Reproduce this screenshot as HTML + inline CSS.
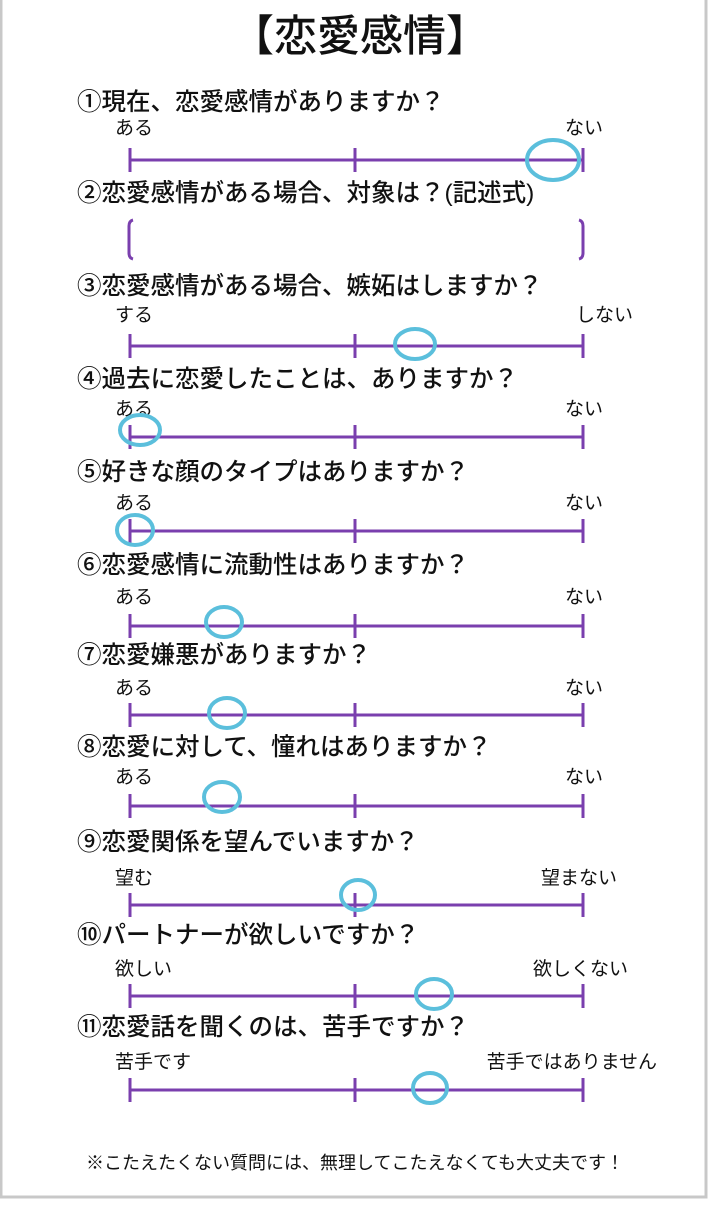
<!DOCTYPE html>
<html><head><meta charset="utf-8"><style>
html,body{margin:0;padding:0;background:#fff;}
body{width:713px;height:1200px;overflow:hidden;}
svg text{font-family:"Liberation Sans","Noto Sans CJK JP",sans-serif;fill:#111;}
</style></head><body>
<svg width="713" height="1200" xmlns="http://www.w3.org/2000/svg">
<rect x="0" y="0" width="713" height="1200" fill="#fff"/>
<rect x="1" y="-5" width="705" height="1202" fill="none" stroke="#c8c8c8" stroke-width="3"/>
<text x="360" y="51" font-size="43" text-anchor="middle" font-weight="500">【恋愛感情】</text>
<g font-size="24.5" font-weight="500">
<text x="77" y="110">①現在、恋愛感情がありますか？</text>
<text x="77" y="201">②恋愛感情がある場合、対象は？(記述式)</text>
<text x="77" y="294">③恋愛感情がある場合、嫉妬はしますか？</text>
<text x="77" y="387">④過去に恋愛したことは、ありますか？</text>
<text x="77" y="480">⑤好きな顔のタイプはありますか？</text>
<text x="77" y="573">⑥恋愛感情に流動性はありますか？</text>
<text x="77" y="663">⑦恋愛嫌悪がありますか？</text>
<text x="77" y="755">⑧恋愛に対して、憧れはありますか？</text>
<text x="77" y="850">⑨恋愛関係を望んでいますか？</text>
<text x="77" y="943">⑩パートナーが欲しいですか？</text>
<text x="77" y="1035">⑪恋愛話を聞くのは、苦手ですか？</text>
</g>
<g font-size="19">
<text x="115" y="134">ある</text><text x="603" y="134" text-anchor="end">ない</text>
<text x="115" y="321">する</text><text x="633" y="321" text-anchor="end">しない</text>
<text x="115" y="415">ある</text><text x="603" y="415" text-anchor="end">ない</text>
<text x="115" y="509">ある</text><text x="603" y="509" text-anchor="end">ない</text>
<text x="115" y="603">ある</text><text x="603" y="603" text-anchor="end">ない</text>
<text x="115" y="694">ある</text><text x="603" y="694" text-anchor="end">ない</text>
<text x="115" y="783">ある</text><text x="603" y="783" text-anchor="end">ない</text>
<text x="115" y="884">望む</text><text x="617" y="884" text-anchor="end">望まない</text>
<text x="115" y="975">欲しい</text><text x="628" y="975" text-anchor="end">欲しくない</text>
<text x="115" y="1068">苦手です</text><text x="657" y="1068" text-anchor="end">苦手ではありません</text>
</g>
<text x="355" y="1169" font-size="18" text-anchor="middle">※こたえたくない質問には、無理してこたえなくても大丈夫です！</text>
<g stroke="#7a3fae" stroke-width="3" fill="none">
<path d="M130 160H583M130 148V172M355 148V172M583 148V172"/>
<path d="M130 346H583M130 334V358M355 334V358M583 334V358"/>
<path d="M130 437H583M130 425V449M355 425V449M583 425V449"/>
<path d="M130 531H583M130 519V543M355 519V543M583 519V543"/>
<path d="M130 626H583M130 614V638M355 614V638M583 614V638"/>
<path d="M130 715H583M130 703V727M355 703V727M583 703V727"/>
<path d="M130 806H583M130 794V818M355 794V818M583 794V818"/>
<path d="M130 905H583M130 893V917M355 893V917M583 893V917"/>
<path d="M130 996H583M130 984V1008M355 984V1008M583 984V1008"/>
<path d="M130 1090H583M130 1078V1102M355 1078V1102M583 1078V1102"/>
<path d="M133 220Q129 221 129 226V253Q129 258 133 259"/>
<path d="M579 220Q583 221 583 226V253Q583 258 579 259"/>
</g>
<g stroke="#5bbfdc" stroke-width="4" fill="none">
<ellipse cx="553" cy="160" rx="26" ry="20"/>
<ellipse cx="415" cy="344" rx="20" ry="15"/>
<ellipse cx="140" cy="430" rx="20" ry="15"/>
<ellipse cx="135" cy="530" rx="18" ry="15"/>
<ellipse cx="224" cy="622" rx="18" ry="15"/>
<ellipse cx="227" cy="713" rx="18" ry="15"/>
<ellipse cx="222" cy="797" rx="18" ry="15"/>
<ellipse cx="358" cy="895" rx="17" ry="15"/>
<ellipse cx="434" cy="994" rx="18" ry="15"/>
<ellipse cx="430" cy="1088" rx="17" ry="15"/>
</g>
</svg>
</body></html>
